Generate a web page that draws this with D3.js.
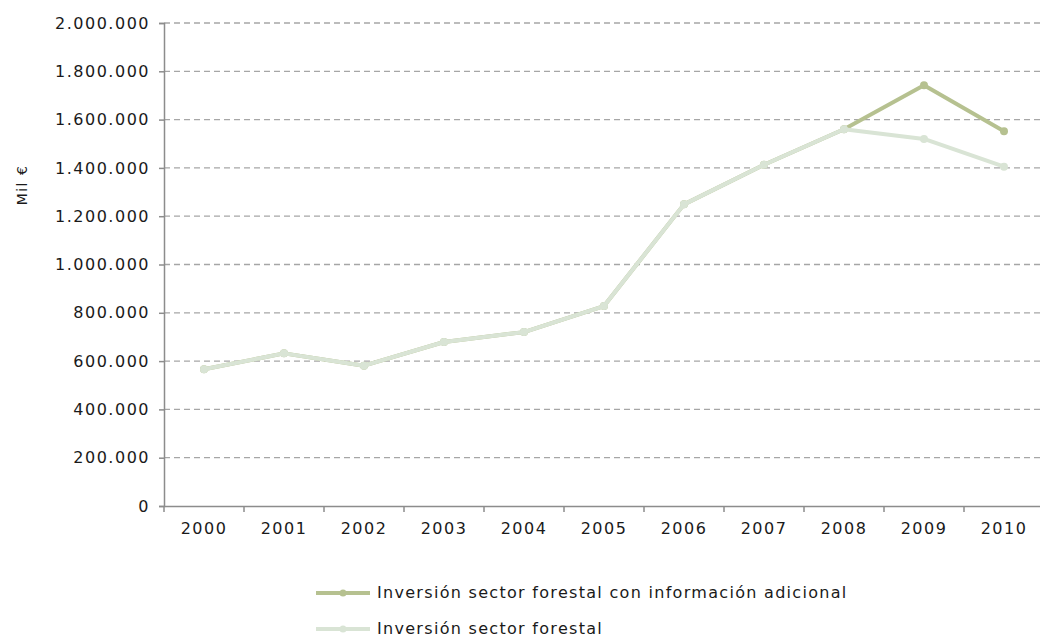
<!DOCTYPE html>
<html><head><meta charset="utf-8">
<script src="https://cdn.jsdelivr.net/npm/d3@7/dist/d3.min.js"></script>
<style>
body{margin:0;background:#fff;}
text{font-family:"DejaVu Sans",sans-serif;fill:#1a1a1a;}
</style></head>
<body><svg id="c" width="1040" height="639"></svg>
<script>
const years = ["2000","2001","2002","2003","2004","2005","2006","2007","2008","2009","2010"];
const forestal = [566000,632000,581000,679000,720000,828000,1249000,1413000,1560000,1520000,1405000];
const adicional = [566000,632000,581000,679000,720000,828000,1249000,1413000,1560000,1742000,1552000];
const yTicks = [0,200000,400000,600000,800000,1000000,1200000,1400000,1600000,1800000,2000000];
const seriesNames = ["Inversión sector forestal con información adicional","Inversión sector forestal"];
const colors = ["#b6c190","#d9e4d5"];

const svg = d3.select("#c");
const pL=164, pR=1044, pT=23, pB=506;
const x = d3.scaleBand().domain(years).range([pL,pR]);
const y = d3.scaleLinear().domain([0,2000000]).range([pB,pT]);
const fmt = v => d3.format(",")(v).replace(/,/g,".");

// grid
svg.append("g").selectAll("line").data(yTicks.filter(d=>d>0)).join("line")
  .attr("x1",pL).attr("x2",pR).attr("y1",d=>y(d)).attr("y2",d=>y(d))
  .attr("stroke","#a6a6a6").attr("stroke-width",1.3).attr("stroke-dasharray","6,4");

// y axis
const ya = svg.append("g").attr("transform",`translate(${pL},0)`)
  .call(d3.axisLeft(y).tickValues(yTicks).tickFormat(fmt).tickSize(5).tickPadding(9));
ya.select(".domain").attr("stroke","#8c8c8c").attr("stroke-width",1.5);
ya.selectAll(".tick line").attr("stroke","#8c8c8c").attr("stroke-width",1.5);
ya.selectAll("text").attr("font-size",16).attr("letter-spacing","1.5px").attr("fill","#222").style("font-family","DejaVu Sans");

// x axis
const xa = svg.append("g").attr("transform",`translate(0,${pB})`)
  .call(d3.axisBottom(x).tickSize(0).tickPadding(17));
xa.select(".domain").attr("stroke","#8c8c8c").attr("stroke-width",1.5);
xa.selectAll("text").attr("font-size",16).attr("letter-spacing","1.5px").attr("fill","#222").style("font-family","DejaVu Sans");
const bounds = years.map(d=>x(d)).concat([x(years[years.length-1])+x.bandwidth()]);
svg.append("g").selectAll("line").data(bounds).join("line")
  .attr("x1",d=>d).attr("x2",d=>d).attr("y1",pB).attr("y2",pB+6)
  .attr("stroke","#8c8c8c").attr("stroke-width",1.5);

// y label
svg.append("text").attr("transform","translate(27,185) rotate(-90)")
  .attr("text-anchor","middle").attr("font-size",14).attr("letter-spacing","1.5px").attr("fill","#222").text("Mil  €");

const line = d3.line().x((d,i)=>x(years[i])+x.bandwidth()/2).y(d=>y(d));
[adicional, forestal].forEach((s,k)=>{
  svg.append("path").datum(s).attr("d",line).attr("fill","none")
    .attr("stroke",colors[k]).attr("stroke-width",4).attr("stroke-linejoin","round");
  svg.append("g").selectAll("circle").data(s).join("circle")
    .attr("cx",(d,i)=>x(years[i])+x.bandwidth()/2).attr("cy",d=>y(d)).attr("r",4)
    .attr("fill",colors[k]);
});

// legend
const leg = svg.append("g");
seriesNames.forEach((n,k)=>{
  const ly = 593 + k*36;
  leg.append("line").attr("x1",316).attr("x2",370).attr("y1",ly).attr("y2",ly)
    .attr("stroke",colors[k]).attr("stroke-width",4);
  leg.append("circle").attr("cx",343).attr("cy",ly).attr("r",3.5).attr("fill",colors[k]);
  leg.append("text").attr("x",377).attr("y",ly+5).attr("font-size",16)
    .attr("letter-spacing","1.3px").attr("fill","#222").text(n);
});
</script></body></html>
